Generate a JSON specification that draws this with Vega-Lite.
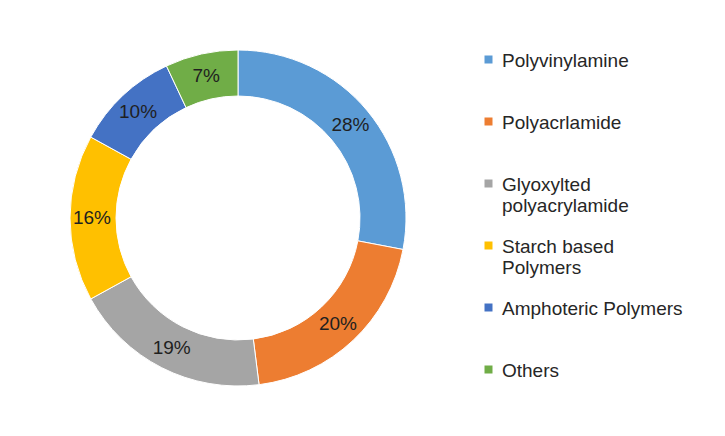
{
  "$schema": "https://vega.github.io/schema/vega-lite/v6.json",
  "width": 476,
  "height": 436,
  "padding": 0,
  "background": "white",
  "config": {
    "view": {"stroke": null},
    "font": "Liberation Sans"
  },
  "data": {
    "values": [
      {"segment": "Polyvinylamine", "share": 0.28, "order": 1},
      {"segment": "Polyacrlamide", "share": 0.20, "order": 2},
      {"segment": "Glyoxylted polyacrylamide", "share": 0.19, "order": 3},
      {"segment": "Starch based Polymers", "share": 0.16, "order": 4},
      {"segment": "Amphoteric Polymers", "share": 0.10, "order": 5},
      {"segment": "Others", "share": 0.07, "order": 6}
    ]
  },
  "encoding": {
    "theta": {"field": "share", "type": "quantitative", "stack": true},
    "order": {"field": "order", "type": "quantitative"}
  },
  "layer": [
    {
      "mark": {"type": "arc", "outerRadius": 168, "innerRadius": 122, "stroke": "white", "strokeWidth": 1},
      "encoding": {
        "color": {
          "field": "segment",
          "type": "nominal",
          "sort": ["Polyvinylamine", "Polyacrlamide", "Glyoxylted polyacrylamide", "Starch based Polymers", "Amphoteric Polymers", "Others"],
          "scale": {
            "domain": ["Polyvinylamine", "Polyacrlamide", "Glyoxylted polyacrylamide", "Starch based Polymers", "Amphoteric Polymers", "Others"],
            "range": ["#5B9BD5", "#ED7D31", "#A5A5A5", "#FFC000", "#4472C4", "#70AD47"]
          },
          "legend": {
            "title": null,
            "orient": "none",
            "legendX": 479,
            "legendY": 42,
            "symbolType": "M-1,1H1V3H-1Z",
            "symbolSize": 64,
            "symbolStrokeWidth": 0,
            "labelFont": "Liberation Sans",
            "labelFontSize": 19,
            "labelColor": "#262626",
            "labelOffset": 4,
            "labelLimit": 300,
            "labelBaseline": "top",
            "gridAlign": "all",
            "rowPadding": 12,
            "labelExpr": "datum.label == 'Glyoxylted polyacrylamide' ? ['Glyoxylted', 'polyacrylamide'] : datum.label == 'Starch based Polymers' ? ['Starch based', 'Polymers'] : datum.label"
          }
        }
      }
    },
    {
      "mark": {"type": "text", "radius": 146, "fontSize": 19, "font": "Liberation Sans", "color": "#1f1f1f"},
      "encoding": {
        "text": {"field": "share", "type": "quantitative", "format": ".0%"},
        "detail": {"field": "segment"}
      }
    }
  ]
}
